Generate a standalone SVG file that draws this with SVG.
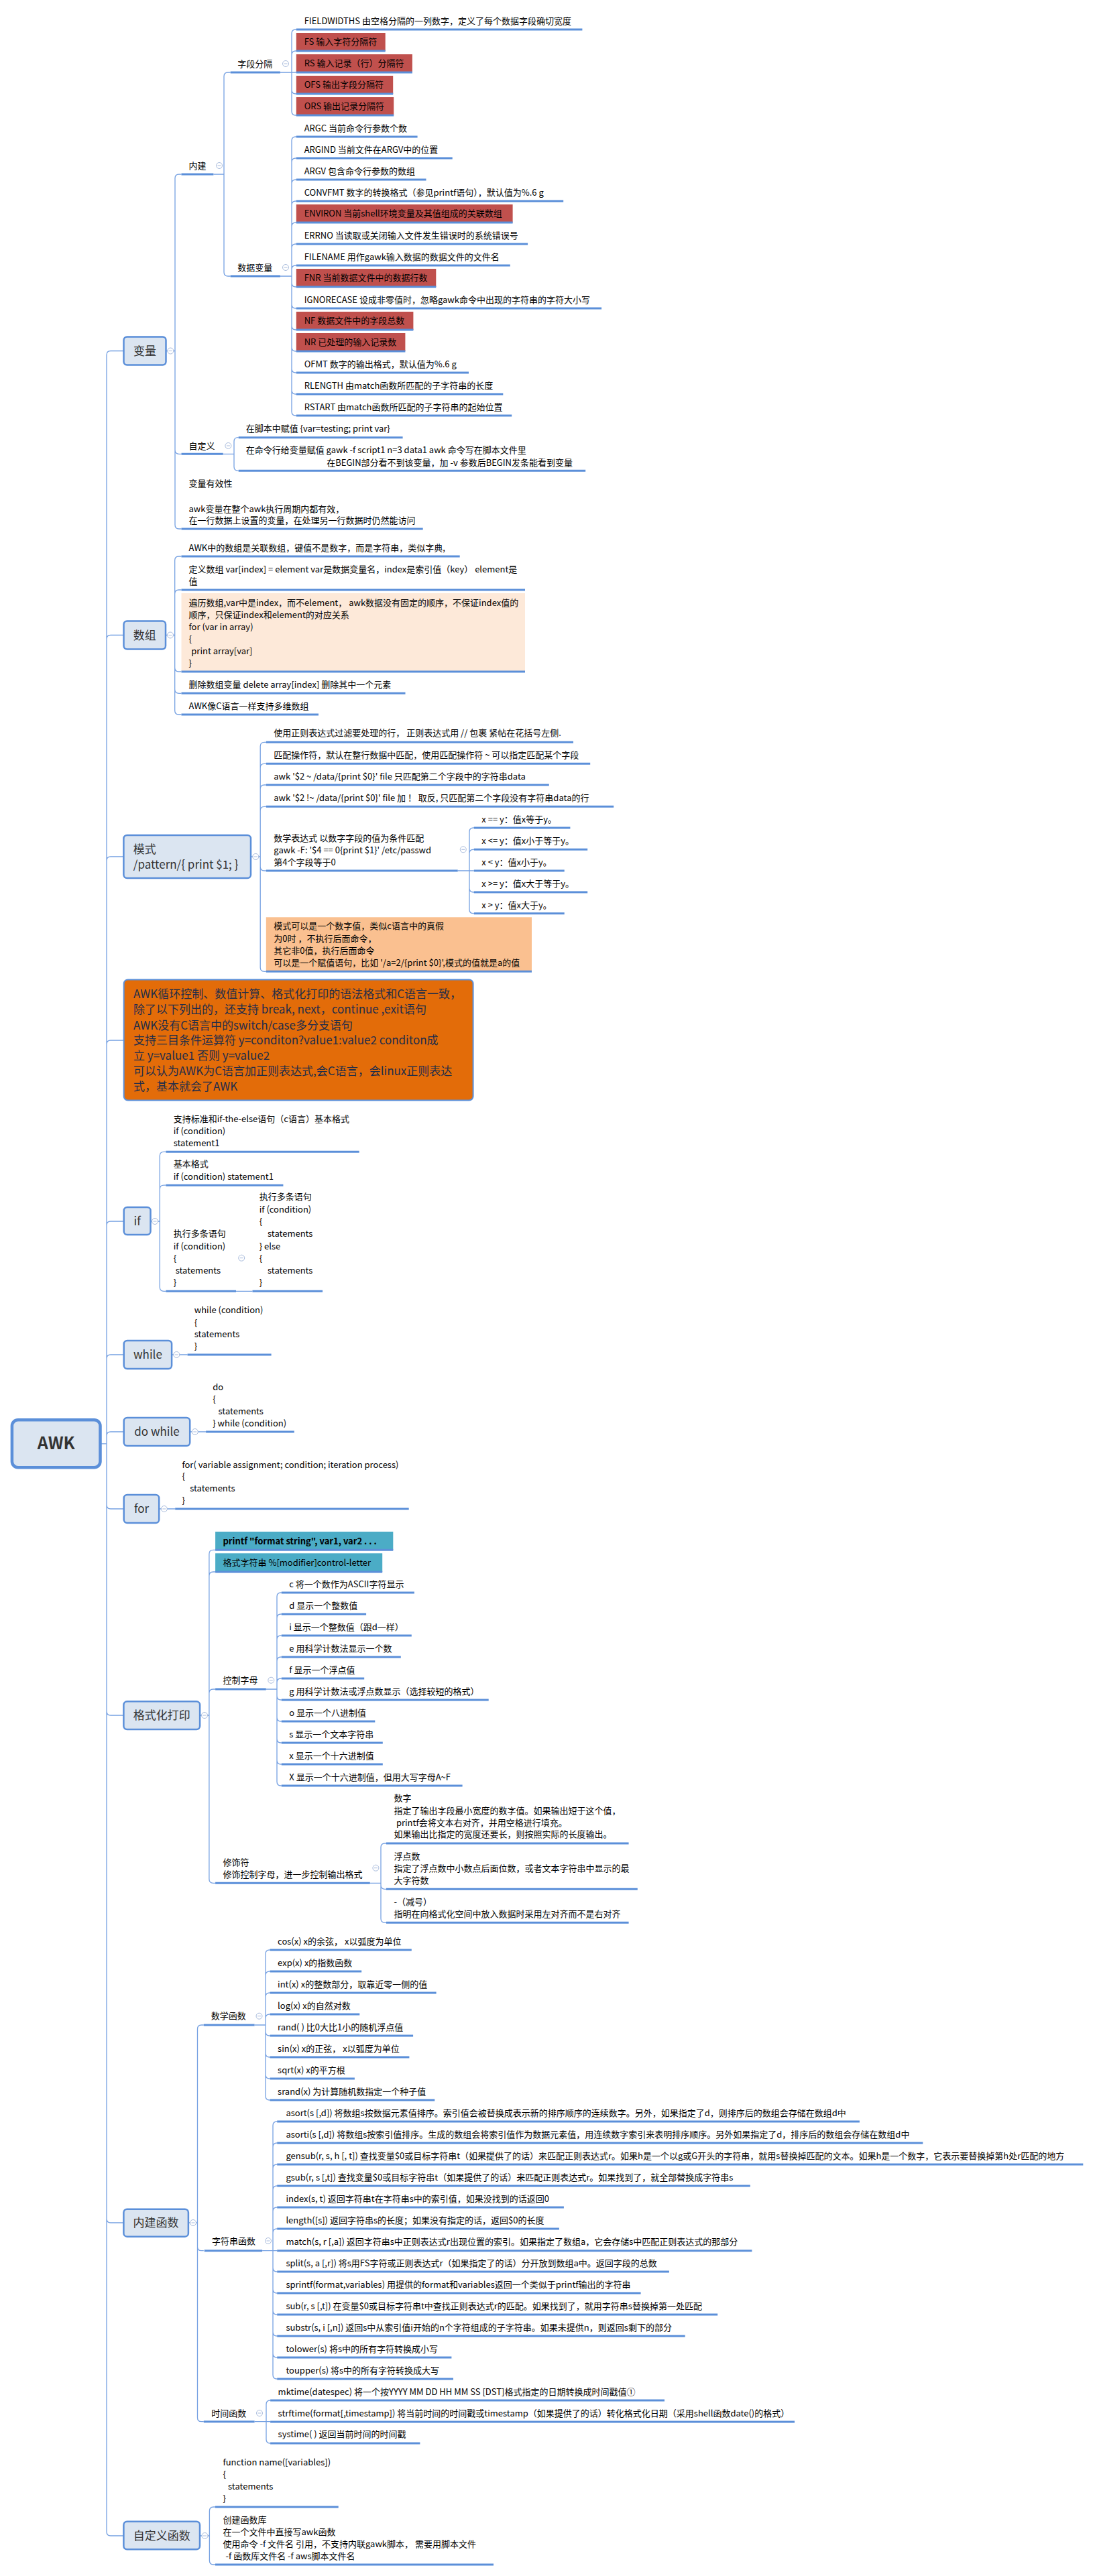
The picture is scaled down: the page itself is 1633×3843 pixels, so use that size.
<svg xmlns="http://www.w3.org/2000/svg" xmlns:xlink="http://www.w3.org/1999/xlink" width="1633" height="3843" viewBox="0 0 1633 3843" xml:space="preserve">
<style>
text{font-family:"Noto Sans CJK SC","Liberation Sans",sans-serif;font-size:13px;fill:#000}
.b{font-size:17px;fill:#333}
.m{text-anchor:middle}
.r{font-size:25px;font-weight:bold;fill:#333;text-anchor:middle}
.bo{font-weight:bold}
.u{stroke:#5b8fd9;stroke-width:3;fill:none}
.c{stroke:#76a1e2;stroke-width:1.3;fill:none}
.n{fill:#dbe5f1;stroke:#5b8fd9;stroke-width:2.5}
.red{fill:#c0504d}
.teal{fill:#4bacc6}
.peach{fill:#fde9d9}
.lor{fill:#fac090}
.big{fill:#e36c09;stroke:#5b8fd9;stroke-width:2}
.bt{font-size:17px;fill:#1f2d4a}
</style>
<defs>
<g id="col"><circle r="4.5" fill="#fff" stroke="#a8bbdc" stroke-width="1"/><path d="M-2.5,0H2.5" stroke="#a8bbdc" stroke-width="1"/></g>
</defs>
<rect width="1633" height="3843" fill="#fff"/>

<g id="connectors" class="c">
<path d="M149.5,2153.8H159M159,2153.8V529.5Q159,523.5 165,523.5H184.5M159,2153.8V953.5Q159,947.5 165,947.5H184.5M159,2153.8V1284Q159,1278 165,1278H184.5M159,2153.8V1558Q159,1552 165,1552H184.5M159,2153.8V1828Q159,1822 165,1822H184.5M159,2153.8V2027Q159,2021 165,2021H184.5M159,2153.8V2142Q159,2136 165,2136H184.5M159,2153.8V2245Q159,2251 165,2251H184.5M159,2153.8V2553Q159,2559 165,2559H184.5M159,2153.8V3310Q159,3316 165,3316H184.5M159,2153.8V3777Q159,3783 165,3783H184.5"/>
<path d="M247.5,523.5H261M261,523.5V266Q261,260 267,260H270.5M261,523.5V671.3Q261,677.3 267,677.3H270.5M261,523.5V783Q261,789 267,789H270.5"/>
<path d="M318.4,260H334M334,260V114Q334,108 340,108H343.7M334,260V406Q334,412 340,412H343.7"/>
<path d="M417.9,108H441.8M435,108V50Q435,44 441,44H441.8M435,108V82Q435,76 441,76H441.8M435,108V134Q435,140 441,140H441.8M435,108V166Q435,172 441,172H441.8"/>
<path d="M417.9,412H435M435,412V210Q435,204 441,204H441.8M435,412V242Q435,236 441,236H441.8M435,412V274Q435,268 441,268H441.8M435,412V306Q435,300 441,300H441.8M435,412V338Q435,332 441,332H441.8M435,412V370Q435,364 441,364H441.8M435,412V402Q435,396 441,396H441.8M435,412V422Q435,428 441,428H441.8M435,412V454Q435,460 441,460H441.8M435,412V486Q435,492 441,492H441.8M435,412V518Q435,524 441,524H441.8M435,412V550Q435,556 441,556H441.8M435,412V582Q435,588 441,588H441.8M435,412V614Q435,620 441,620H441.8"/>
<path d="M332.7,677.3H349M349,677.3V658.7Q349,652.7 355,652.7H355.7M349,677.3V696.3Q349,702.3 355,702.3H355.7"/>
<path d="M247,947.5H260.7M260.7,947.5V836Q260.7,830 266.7,830H270.5M260.7,947.5V886Q260.7,880 266.7,880H270.5M260.7,947.5V996Q260.7,1002 266.7,1002H270.5M260.7,947.5V1028.3Q260.7,1034.3 266.7,1034.3H270.5M260.7,947.5V1060Q260.7,1066 266.7,1066H270.5"/>
<path d="M374,1278H388.2M388.2,1278V1113.3Q388.2,1107.3 394.2,1107.3H396.8M388.2,1278V1145.3Q388.2,1139.3 394.2,1139.3H396.8M388.2,1278V1177Q388.2,1171 394.2,1171H396.8M388.2,1278V1209.3Q388.2,1203.3 394.2,1203.3H396.8M388.2,1278V1293Q388.2,1299 394.2,1299H396.8M388.2,1278V1443.3Q388.2,1449.3 394.2,1449.3H396.8"/>
<path d="M682.7,1299H706.8M700,1299V1241Q700,1235 706,1235H706.8M700,1299V1273.3Q700,1267.3 706,1267.3H706.8M700,1299V1325Q700,1331 706,1331H706.8M700,1299V1356.7Q700,1362.7 706,1362.7H706.8"/>
<path d="M224.5,1822H238.3M238.3,1822V1724.3Q238.3,1718.3 244.3,1718.3H247.4M238.3,1822V1774.2Q238.3,1768.2 244.3,1768.2H247.4M238.3,1822V1920.3Q238.3,1926.3 244.3,1926.3H247.4M352,1926.3H376.5"/>
<path d="M256.1,2021H279.6M283.2,2136H307.1M237.2,2251H261.2"/>
<path d="M298.1,2559H311.9M311.9,2559V2318.3Q311.9,2312.3 317.9,2312.3H321.1M311.9,2559V2351Q311.9,2345 317.9,2345H321.1M311.9,2559V2526Q311.9,2520 317.9,2520H321.1M311.9,2559V2803.3Q311.9,2809.3 317.9,2809.3H321.1"/>
<path d="M396.8,2520H413M413,2520V2382Q413,2376 419,2376H419.8M413,2520V2414Q413,2408 419,2408H419.8M413,2520V2446Q413,2440 419,2440H419.8M413,2520V2478Q413,2472 419,2472H419.8M413,2520V2510Q413,2504 419,2504H419.8M413,2520V2530Q413,2536 419,2536H419.8M413,2520V2562Q413,2568 419,2568H419.8M413,2520V2594Q413,2600 419,2600H419.8M413,2520V2626Q413,2632 419,2632H419.8M413,2520V2658Q413,2664 419,2664H419.8"/>
<path d="M551.8,2809.3H568M568,2809.3V2756Q568,2750 574,2750H575.9M568,2809.3V2812.3Q568,2818.3 574,2818.3H575.9M568,2809.3V2862.3Q568,2868.3 574,2868.3H575.9"/>
<path d="M280.9,3316H294.5M294.5,3316V3027Q294.5,3021 300.5,3021H303.8M294.5,3316V3351.7Q294.5,3357.7 300.5,3357.7H303.8M294.5,3316V3606.7Q294.5,3612.7 300.5,3612.7H303.8"/>
<path d="M379.6,3021H396M396,3021V2915Q396,2909 402,2909H402.6M396,3021V2947Q396,2941 402,2941H402.6M396,3021V2979Q396,2973 402,2973H402.6M396,3021V3011Q396,3005 402,3005H402.6M396,3021V3031Q396,3037 402,3037H402.6M396,3021V3063Q396,3069 402,3069H402.6M396,3021V3095Q396,3101 402,3101H402.6M396,3021V3127Q396,3133 402,3133H402.6"/>
<path d="M391.1,3357.7H413.2M407,3357.7V3171Q407,3165 413,3165H413.2M407,3357.7V3203Q407,3197 413,3197H413.2M407,3357.7V3235Q407,3229 413,3229H413.2M407,3357.7V3267Q407,3261 413,3261H413.2M407,3357.7V3299Q407,3293 413,3293H413.2M407,3357.7V3331Q407,3325 413,3325H413.2M407,3357.7V3383Q407,3389 413,3389H413.2M407,3357.7V3415Q407,3421 413,3421H413.2M407,3357.7V3447Q407,3453 413,3453H413.2M407,3357.7V3479Q407,3485 413,3485H413.2M407,3357.7V3511Q407,3517 413,3517H413.2M407,3357.7V3543Q407,3549 413,3549H413.2"/>
<path d="M379.6,3612.7H403.1M397,3612.7V3587Q397,3581 403,3581H403.1M397,3612.7V3639Q397,3645 403,3645H403.1"/>
<path d="M298,3783H312.4M312.4,3783V3746Q312.4,3740 318.4,3740H321M312.4,3783V3820Q312.4,3826 318.4,3826H321"/>
</g>

<g id="root"><rect x="17.9" y="2118.3" width="131.6" height="71" rx="9" fill="#dbe5f1" stroke="#5b8fd9" stroke-width="4.5"/><text class="r" x="83.7" y="2162">AWK</text></g>

<!-- 变量 -->
<g id="n-bianliang"><rect class="n" x="184.5" y="502.5" width="63" height="42" rx="5"/><text class="b m" x="216" y="529.5">变量</text></g>
<g id="n-neijian"><path class="u" d="M270.5,260H318.4"/><text x="281.5" y="251.5">内建</text></g>
<g id="n-ziduan"><path class="u" d="M343.7,108H417.9"/><text x="354.2" y="99.5">字段分隔</text></g>
<g id="n-fieldwidths"><path class="u" d="M441.8,44H868.4"/><text x="453.7" y="35.5">FIELDWIDTHS 由空格分隔的一列数字，定义了每个数据字段确切宽度</text></g>
<g id="n-fs"><rect class="red" x="441.8" y="49" width="132.9" height="27"/><path class="u" d="M441.8,76H574.7"/><text x="453.7" y="67">FS 输入字符分隔符</text></g>
<g id="n-rs"><rect class="red" x="441.8" y="81" width="173.1" height="27"/><path class="u" d="M441.8,108H614.9"/><text x="453.7" y="99">RS 输入记录（行）分隔符</text></g>
<g id="n-ofs"><rect class="red" x="441.8" y="113" width="144.4" height="27"/><path class="u" d="M441.8,140H586.2"/><text x="453.7" y="131">OFS 输出字段分隔符</text></g>
<g id="n-ors"><rect class="red" x="441.8" y="145" width="145.4" height="27"/><path class="u" d="M441.8,172H587.2"/><text x="453.7" y="163">ORS 输出记录分隔符</text></g>
<g id="n-shuju"><path class="u" d="M343.7,412H417.9"/><text x="354.2" y="403.5">数据变量</text></g>
<g id="n-argc"><path class="u" d="M441.8,204H622.6"/><text x="453.7" y="195.5">ARGC 当前命令行参数个数</text></g>
<g id="n-argind"><path class="u" d="M441.8,236H674.7"/><text x="453.7" y="227.5">ARGIND 当前文件在ARGV中的位置</text></g>
<g id="n-argv"><path class="u" d="M441.8,268H635.5"/><text x="453.7" y="259.5">ARGV 包含命令行参数的数组</text></g>
<g id="n-convfmt"><path class="u" d="M441.8,300H840.2"/><text x="453.7" y="291.5">CONVFMT 数字的转换格式（参见printf语句），默认值为%.6 g</text></g>
<g id="n-environ"><rect class="red" x="441.8" y="305" width="322.8" height="27"/><path class="u" d="M441.8,332H764.6"/><text x="453.7" y="323">ENVIRON 当前shell环境变量及其值组成的关联数组</text></g>
<g id="n-errno"><path class="u" d="M441.8,364H787.1"/><text x="453.7" y="355.5">ERRNO 当读取或关闭输入文件发生错误时的系统错误号</text></g>
<g id="n-filename"><path class="u" d="M441.8,396H760.8"/><text x="453.7" y="387.5">FILENAME 用作gawk输入数据的数据文件的文件名</text></g>
<g id="n-fnr"><rect class="red" x="441.8" y="401" width="208.5" height="27"/><path class="u" d="M441.8,428H650.3"/><text x="453.7" y="419">FNR 当前数据文件中的数据行数</text></g>
<g id="n-ignorecase"><path class="u" d="M441.8,460H897.1"/><text x="453.7" y="451.5">IGNORECASE 设成非零值时，忽略gawk命令中出现的字符串的字符大小写</text></g>
<g id="n-nf"><rect class="red" x="441.8" y="465" width="174.6" height="27"/><path class="u" d="M441.8,492H616.4"/><text x="453.7" y="483">NF 数据文件中的字段总数</text></g>
<g id="n-nr"><rect class="red" x="441.8" y="497" width="162.6" height="27"/><path class="u" d="M441.8,524H604.4"/><text x="453.7" y="515">NR 已处理的输入记录数</text></g>
<g id="n-ofmt"><path class="u" d="M441.8,556H699"/><text x="453.7" y="547.5">OFMT 数字的输出格式，默认值为%.6 g</text></g>
<g id="n-rlength"><path class="u" d="M441.8,588H750.3"/><text x="453.7" y="579.5">RLENGTH 由match函数所匹配的子字符串的长度</text></g>
<g id="n-rstart"><path class="u" d="M441.8,620H763.2"/><text x="453.7" y="611.5">RSTART 由match函数所匹配的子字符串的起始位置</text></g>
<g id="n-zidingyi"><path class="u" d="M270.5,677.3H332.7"/><text x="281.5" y="669.5">自定义</text></g>
<g id="n-jiaoben"><path class="u" d="M355.7,652.7H600.6"/><text x="366.7" y="643.8">在脚本中赋值 {var=testing; print var}</text></g>
<g id="n-minglinghang"><path class="u" d="M355.7,702.3H873.2"/><text x="366.7" y="676.2">在命令行给变量赋值 gawk -f script1 n=3 data1 awk 命令写在脚本文件里</text><text x="487.2" y="694.5">在BEGIN部分看不到该变量，加 -v 参数后BEGIN发条能看到变量</text></g>
<g id="n-youxiao"><path class="u" d="M270.5,789H630.7"/><text x="281.5" y="726.2">变量有效性</text><text x="281.5" y="763.5">awk变量在整个awk执行周期内都有效，</text><text x="281.5" y="781.2">在一行数据上设置的变量，在处理另一行数据时仍然能访问</text></g>

<!-- 数组 -->
<g id="n-shuzu"><rect class="n" x="184.5" y="926.5" width="62.5" height="42" rx="5"/><text class="b m" x="215.7" y="953.5">数组</text></g>
<g id="n-guanlian"><path class="u" d="M270.5,830H685.7"/><text x="281.5" y="821.8">AWK中的数组是关联数组，键值不是数字，而是字符串，类似字典,</text></g>
<g id="n-dingyi"><path class="u" d="M270.5,880H783"/><text x="281.5" y="853.8">定义数组 var[index] = element var是数据变量名，index是索引值（key） element是</text><text x="281.5" y="871.8">值</text></g>
<g id="n-bianli"><rect class="peach" x="270.5" y="885" width="512.5" height="117"/><path class="u" d="M270.5,1002H783"/><text x="281.5" y="903.8">遍历数组,var中是index，而不element， awk数据没有固定的顺序，不保证index值的</text><text x="281.5" y="921.8">顺序，只保证index和element的对应关系</text><text x="281.5" y="939.8">for (var in array)</text><text x="281.5" y="957.8">{</text><text x="285.3" y="975.8">print array[var]</text><text x="281.5" y="993.8">}</text></g>
<g id="n-shanchu"><path class="u" d="M270.5,1034.3H604.5"/><text x="281.5" y="1026">删除数组变量  delete array[index]  删除其中一个元素</text></g>
<g id="n-duowei"><path class="u" d="M270.5,1066H475"/><text x="281.5" y="1057.8">AWK像C语言一样支持多维数组</text></g>

<!-- 模式 -->
<g id="n-moshi"><rect class="n" x="184.4" y="1246" width="189.6" height="64" rx="5"/><text class="b" x="198.8" y="1272.7">模式</text><text class="b" x="198.8" y="1296">/pattern/{ print $1; }</text></g>
<g id="n-zhengze"><path class="u" d="M396.8,1107.3H855"/><text x="408.3" y="1097.8">使用正则表达式过滤要处理的行， 正则表达式用 // 包裹 紧帖在花括号左侧.</text></g>
<g id="n-pipei"><path class="u" d="M396.8,1139.3H880.2"/><text x="408.3" y="1130.5">匹配操作符，默认在整行数据中匹配，使用匹配操作符 ~ 可以指定匹配某个字段</text></g>
<g id="n-awk1"><path class="u" d="M396.8,1171H818.8"/><text x="408.3" y="1162.8">awk  '$2 ~ /data/{print $0}' file  只匹配第二个字段中的字符串data</text></g>
<g id="n-awk2"><path class="u" d="M396.8,1203.3H915.2"/><text x="408.3" y="1194.5">awk  '$2 !~ /data/{print $0}' file  加 ！ 取反, 只匹配第二个字段没有字符串data的行</text></g>
<g id="n-shuxue"><path class="u" d="M396.8,1299H682.7"/><text x="408.3" y="1255.2">数学表达式  以数字字段的值为条件匹配</text><text x="408.3" y="1272.8">gawk -F: '$4 == 0{print $1}' /etc/passwd</text><text x="408.3" y="1290.8">第4个字段等于0</text></g>
<g id="n-eq"><path class="u" d="M706.8,1235H850.4"/><text x="718.3" y="1227.2">x == y：值x等于y。</text></g>
<g id="n-le"><path class="u" d="M706.8,1267.3H876.2"/><text x="718.3" y="1258.8">x &lt;= y：值x小于等于y。</text></g>
<g id="n-lt"><path class="u" d="M706.8,1299H841.7"/><text x="718.3" y="1291.2">x &lt; y：值x小于y。</text></g>
<g id="n-ge"><path class="u" d="M706.8,1331H876.2"/><text x="718.3" y="1322.8">x &gt;= y：值x大于等于y。</text></g>
<g id="n-gt"><path class="u" d="M706.8,1362.7H841.7"/><text x="718.3" y="1354.5">x &gt; y：值x大于y。</text></g>
<g id="n-zhenjia"><rect class="lor" x="396.8" y="1368.3" width="396.2" height="81"/><path class="u" d="M396.8,1449.3H793"/><text x="408.3" y="1386.2">模式可以是一个数字值，类似c语言中的真假</text><text x="408.3" y="1404.5">为0时  ，不执行后面命令，</text><text x="408.3" y="1422.8">其它非0值，执行后面命令</text><text x="408.3" y="1440.5">可以是一个赋值语句，比如 '/a=2/{print $0}',模式的值就是a的值</text></g>

<!-- 说明 -->
<g id="n-shuoming"><rect class="big" x="184.7" y="1461.4" width="520.9" height="180.1" rx="6"/>
<text class="bt" x="199" y="1489">AWK循环控制、数值计算、格式化打印的语法格式和C语言一致，</text>
<text class="bt" x="199" y="1512.1">除了以下列出的，还支持 break, next，continue ,exit语句</text>
<text class="bt" x="199" y="1535.5">AWK没有C语言中的switch/case多分支语句</text>
<text class="bt" x="199" y="1557.9">支持三目条件运算符  y=conditon?value1:value2  conditon成</text>
<text class="bt" x="199" y="1581">立  y=value1 否则 y=value2</text>
<text class="bt" x="199" y="1604.4">可以认为AWK为C语言加正则表达式,会C语言，会linux正则表达</text>
<text class="bt" x="199" y="1626.8">式，基本就会了AWK</text></g>

<!-- if -->
<g id="n-if"><rect class="n" x="184.7" y="1801" width="39.8" height="41" rx="5"/><text class="b m" x="204.6" y="1828">if</text></g>
<g id="n-if1"><path class="u" d="M247.4,1718.3H535.7"/><text x="258.7" y="1673.5">支持标准和if-the-else语句（c语言）基本格式</text><text x="258.7" y="1691.8">if (condition)</text><text x="258.7" y="1710">statement1</text></g>
<g id="n-if2"><path class="u" d="M247.4,1768.2H422.4"/><text x="258.7" y="1741.4">基本格式</text><text x="258.7" y="1759.6">if (condition) statement1</text></g>
<g id="n-if3"><path class="u" d="M247.4,1926.3H352"/><text x="258.7" y="1845.2">执行多条语句</text><text x="258.7" y="1863.5">if (condition)</text><text x="258.7" y="1881.8">{</text><text x="261.7" y="1900.1">statements</text><text x="258.7" y="1918.4">}</text></g>
<g id="n-ifelse"><path class="u" d="M376.5,1926.3H481.1"/><text x="386.7" y="1790.3">执行多条语句</text><text x="386.7" y="1808.6">if (condition)</text><text x="386.7" y="1826.9">{</text><text x="399" y="1845.2">statements</text><text x="386.7" y="1863.5">} else</text><text x="386.7" y="1881.8">{</text><text x="399" y="1900.1">statements</text><text x="386.7" y="1918.4">}</text></g>

<!-- while / do while / for -->
<g id="n-while"><rect class="n" x="184.7" y="2000" width="71.4" height="42" rx="5"/><text class="b m" x="220.4" y="2027">while</text></g>
<g id="n-while1"><path class="u" d="M279.6,2021H404.6"/><text x="289.8" y="1958.7">while (condition)</text><text x="289.8" y="1977.8">{</text><text x="289.8" y="1995.2">statements</text><text x="289.8" y="2013.2">}</text></g>
<g id="n-dowhile"><rect class="n" x="184.7" y="2115" width="98.5" height="42" rx="5"/><text class="b m" x="234" y="2142">do while</text></g>
<g id="n-dowhile1"><path class="u" d="M307.1,2136H438.8"/><text x="317.3" y="2073.8">do</text><text x="317.3" y="2092.2">{</text><text x="325.5" y="2110.2">statements</text><text x="317.3" y="2127.8">} while (condition)</text></g>
<g id="n-for"><rect class="n" x="184.7" y="2230" width="52.5" height="42" rx="5"/><text class="b m" x="211" y="2257">for</text></g>
<g id="n-for1"><path class="u" d="M261.2,2251H609.7"/><text x="271.4" y="2189.5">for( variable assignment; condition; iteration process)</text><text x="271.4" y="2207.2">{</text><text x="283.2" y="2225.2">statements</text><text x="271.4" y="2243.2">}</text></g>

<!-- 格式化打印 -->
<g id="n-geshihua"><rect class="n" x="184.4" y="2538.3" width="113.7" height="41.7" rx="5"/><text class="b m" x="241.2" y="2565.2">格式化打印</text></g>
<g id="n-printf"><rect class="teal" x="321.1" y="2285" width="265.2" height="27.3"/><path class="u" d="M321.1,2312.3H586.3"/><text class="bo" x="332.5" y="2303.8">printf "format string", var1, var2 . . .</text></g>
<g id="n-geshizifu"><rect class="teal" x="321.1" y="2317.3" width="249.1" height="27.7"/><path class="u" d="M321.1,2345H570.2"/><text x="332.5" y="2335.8">格式字符串  %[modifier]control-letter</text></g>
<g id="n-kongzhi"><path class="u" d="M321.1,2520H396.8"/><text x="332.5" y="2511.2">控制字母</text></g>
<g id="n-c"><path class="u" d="M419.8,2376H617.9"/><text x="431.3" y="2367.5">c 将一个数作为ASCII字符显示</text></g>
<g id="n-d"><path class="u" d="M419.8,2408H546.1"/><text x="431.3" y="2399.5">d 显示一个整数值</text></g>
<g id="n-i"><path class="u" d="M419.8,2440H613.8"/><text x="431.3" y="2431.5">i 显示一个整数值（跟d一样）</text></g>
<g id="n-e"><path class="u" d="M419.8,2472H597.8"/><text x="431.3" y="2463.5">e 用科学计数法显示一个数</text></g>
<g id="n-f"><path class="u" d="M419.8,2504H543.2"/><text x="431.3" y="2495.5">f 显示一个浮点值</text></g>
<g id="n-g"><path class="u" d="M419.8,2536H728.7"/><text x="431.3" y="2527.5">g 用科学计数法或浮点数显示（选择较短的格式）</text></g>
<g id="n-o"><path class="u" d="M419.8,2568H559.3"/><text x="431.3" y="2559.5">o 显示一个八进制值</text></g>
<g id="n-s"><path class="u" d="M419.8,2600H570.8"/><text x="431.3" y="2591.5">s 显示一个文本字符串</text></g>
<g id="n-x"><path class="u" d="M419.8,2632H570.8"/><text x="431.3" y="2623.5">x 显示一个十六进制值</text></g>
<g id="n-X"><path class="u" d="M419.8,2664H689.6"/><text x="431.3" y="2655.5">X 显示一个十六进制值，但用大写字母A~F</text></g>
<g id="n-xiushi"><path class="u" d="M321.1,2809.3H551.8"/><text x="332.5" y="2782.8">修饰符</text><text x="332.5" y="2800.5">修饰控制字母，进一步控制输出格式</text></g>
<g id="n-shuzi"><path class="u" d="M575.9,2750H937.6"/><text x="587.4" y="2687.2">数字</text><text x="587.4" y="2705.5">指定了输出字段最小宽度的数字值。如果输出短于这个值，</text><text x="590.9" y="2723.5">printf会将文本右对齐，并用空格进行填充。</text><text x="587.4" y="2741.2">如果输出比指定的宽度还要长，则按照实际的长度输出。</text></g>
<g id="n-fudian"><path class="u" d="M575.9,2818.3H950.8"/><text x="587.4" y="2773.5">浮点数</text><text x="587.4" y="2791.8">指定了浮点数中小数点后面位数，或者文本字符串中显示的最</text><text x="587.4" y="2809.5">大字符数</text></g>
<g id="n-jianhao"><path class="u" d="M575.9,2868.3H937.6"/><text x="587.4" y="2841.8">-（减号）</text><text x="587.4" y="2859.8">指明在向格式化空间中放入数据时采用左对齐而不是右对齐</text></g>

<!-- 内建函数 -->
<g id="n-neijianhanshu"><rect class="n" x="184.4" y="3295.7" width="96.5" height="41" rx="5"/><text class="b m" x="232.6" y="3322">内建函数</text></g>
<g id="n-shuxuehanshu"><path class="u" d="M303.8,3021H379.6"/><text x="314.8" y="3012.2">数学函数</text></g>
<g id="n-cos"><path class="u" d="M402.6,2909H613.8"/><text x="414.1" y="2900.5">cos(x) x的余弦， x以弧度为单位</text></g>
<g id="n-exp"><path class="u" d="M402.6,2941H539.2"/><text x="414.1" y="2932.5">exp(x) x的指数函数</text></g>
<g id="n-int"><path class="u" d="M402.6,2973H650.6"/><text x="414.1" y="2964.5">int(x) x的整数部分，取靠近零一侧的值</text></g>
<g id="n-log"><path class="u" d="M402.6,3005H536.3"/><text x="414.1" y="2996.5">log(x) x的自然对数</text></g>
<g id="n-rand"><path class="u" d="M402.6,3037H616.1"/><text x="414.1" y="3028.5">rand( ) 比0大比1小的随机浮点值</text></g>
<g id="n-sin"><path class="u" d="M402.6,3069H610.4"/><text x="414.1" y="3060.5">sin(x) x的正弦， x以弧度为单位</text></g>
<g id="n-sqrt"><path class="u" d="M402.6,3101H528.9"/><text x="414.1" y="3092.5">sqrt(x) x的平方根</text></g>
<g id="n-srand"><path class="u" d="M402.6,3133H648.3"/><text x="414.1" y="3124.5">srand(x) 为计算随机数指定一个种子值</text></g>
<g id="n-zifuchuan"><path class="u" d="M304.7,3357.7H391.1"/><text x="316.1" y="3347.8">字符串函数</text></g>
<g id="n-asort"><path class="u" d="M413.2,3165H1281.9"/><text x="426.4" y="3157">asort(s [,d])  将数组s按数据元素值排序。索引值会被替换成表示新的排序顺序的连续数字。另外，如果指定了d，则排序后的数组会存储在数组d中</text></g>
<g id="n-asorti"><path class="u" d="M413.2,3197H1376.3"/><text x="426.4" y="3189">asorti(s [,d])  将数组s按索引值排序。生成的数组会将索引值作为数据元素值，用连续数字索引来表明排序顺序。另外如果指定了d，排序后的数组会存储在数组d中</text></g>
<g id="n-gensub"><path class="u" d="M413.2,3229H1615.3"/><text x="426.4" y="3221">gensub(r, s, h [, t])  查找变量$0或目标字符串t（如果提供了的话）来匹配正则表达式r。如果h是一个以g或G开头的字符串，就用s替换掉匹配的文本。如果h是一个数字，它表示要替换掉第h处r匹配的地方</text></g>
<g id="n-gsub"><path class="u" d="M413.2,3261H1118.8"/><text x="426.4" y="3253">gsub(r, s [,t])  查找变量$0或目标字符串t（如果提供了的话）来匹配正则表达式r。如果找到了，就全部替换成字符串s</text></g>
<g id="n-index"><path class="u" d="M413.2,3293H840.9"/><text x="426.4" y="3285">index(s, t)  返回字符串t在字符串s中的索引值，如果没找到的话返回0</text></g>
<g id="n-length"><path class="u" d="M413.2,3325H833.9"/><text x="426.4" y="3317">length([s])  返回字符串s的长度；如果没有指定的话，返回$0的长度</text></g>
<g id="n-match"><path class="u" d="M413.2,3357.7H1121.4"/><text x="426.4" y="3349">match(s, r [,a])  返回字符串s中正则表达式r出现位置的索引。如果指定了数组a，它会存储s中匹配正则表达式的那部分</text></g>
<g id="n-split"><path class="u" d="M413.2,3389H997.9"/><text x="426.4" y="3381">split(s, a [,r])  将s用FS字符或正则表达式r（如果指定了的话）分开放到数组a中。返回字段的总数</text></g>
<g id="n-sprintf"><path class="u" d="M413.2,3421H955.6"/><text x="426.4" y="3413">sprintf(format,variables)  用提供的format和variables返回一个类似于printf输出的字符串</text></g>
<g id="n-sub"><path class="u" d="M413.2,3453H1070.2"/><text x="426.4" y="3445">sub(r, s [,t])  在变量$0或目标字符串t中查找正则表达式r的匹配。如果找到了，就用字符串s替换掉第一处匹配</text></g>
<g id="n-substr"><path class="u" d="M413.2,3485H1021.7"/><text x="426.4" y="3477">substr(s, i [,n])  返回s中从索引值i开始的n个字符组成的子字符串。如果未提供n，则返回s剩下的部分</text></g>
<g id="n-tolower"><path class="u" d="M413.2,3517H673.4"/><text x="426.4" y="3509">tolower(s)  将s中的所有字符转换成小写</text></g>
<g id="n-toupper"><path class="u" d="M413.2,3549H676"/><text x="426.4" y="3541">toupper(s)  将s中的所有字符转换成大写</text></g>
<g id="n-shijian"><path class="u" d="M303.8,3612.7H379.6"/><text x="315.3" y="3604.5">时间函数</text></g>
<g id="n-mktime"><path class="u" d="M403.1,3581H991"/><text x="414.6" y="3572.8">mktime(datespec)  将一个按YYYY MM DD HH MM SS [DST]格式指定的日期转换成时间戳值①</text></g>
<g id="n-strftime"><path class="u" d="M403.1,3613H1185"/><text x="414.6" y="3604.5">strftime(format[,timestamp])  将当前时间的时间戳或timestamp（如果提供了的话）转化格式化日期（采用shell函数date()的格式）</text></g>
<g id="n-systime"><path class="u" d="M403.1,3645H626.4"/><text x="414.6" y="3636.2">systime( )  返回当前时间的时间戳</text></g>

<!-- 自定义函数 -->
<g id="n-zidingyihanshu"><rect class="n" x="184.4" y="3761.7" width="113.6" height="41.6" rx="5"/><text class="b m" x="241.2" y="3788.5">自定义函数</text></g>
<g id="n-function"><path class="u" d="M321,3740H504.7"/><text x="332.5" y="3677.8">function name([variables])</text><text x="332.5" y="3696.2">{</text><text x="340" y="3713.8">statements</text><text x="332.5" y="3731.8">}</text></g>
<g id="n-hanshuku"><path class="u" d="M321,3826H736"/><text x="332.5" y="3763.8">创建函数库</text><text x="332.5" y="3781.8">在一个文件中直接写awk函数</text><text x="332.5" y="3799.5">使用命令 -f 文件名  引用，不支持内联gawk脚本， 需要用脚本文件</text><text x="336.5" y="3817.8">-f 函数库文件名 -f aws脚本文件名</text></g>

<g id="collapse">
<use xlink:href="#col" x="254.3" y="523.5"/><use xlink:href="#col" x="327" y="247"/><use xlink:href="#col" x="426" y="95"/><use xlink:href="#col" x="426" y="399"/><use xlink:href="#col" x="340.4" y="665"/><use xlink:href="#col" x="254" y="947.5"/><use xlink:href="#col" x="381.3" y="1278"/><use xlink:href="#col" x="690.8" y="1267.3"/><use xlink:href="#col" x="231" y="1822"/><use xlink:href="#col" x="360.2" y="1876.7"/><use xlink:href="#col" x="263.3" y="2021"/><use xlink:href="#col" x="290.8" y="2136"/><use xlink:href="#col" x="244.9" y="2251"/><use xlink:href="#col" x="305" y="2559"/><use xlink:href="#col" x="404.3" y="2506.7"/><use xlink:href="#col" x="560.4" y="2786.7"/><use xlink:href="#col" x="288" y="3316"/><use xlink:href="#col" x="386.5" y="3007.7"/><use xlink:href="#col" x="400" y="3343"/><use xlink:href="#col" x="387" y="3600"/><use xlink:href="#col" x="305.5" y="3783"/>
</g>
</svg>
